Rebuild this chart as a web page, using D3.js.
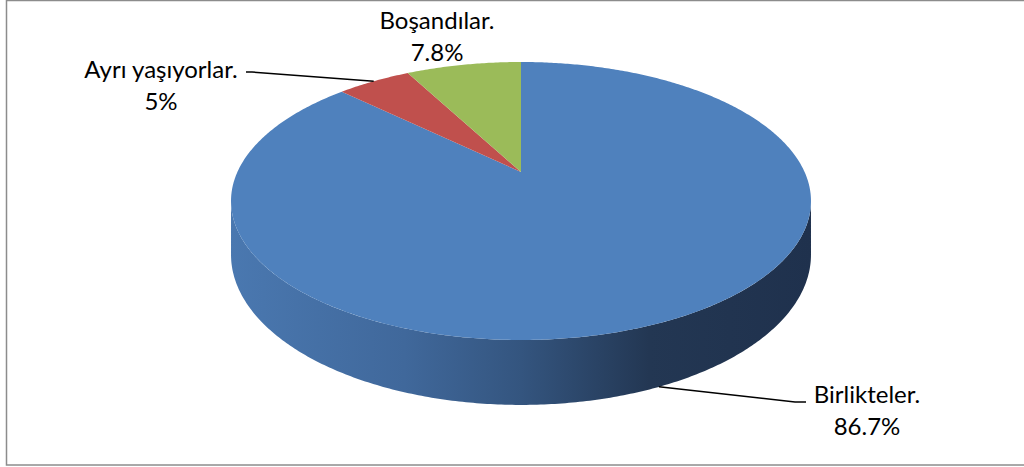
<!DOCTYPE html>
<html>
<head>
<meta charset="utf-8">
<script src="https://cdn.jsdelivr.net/npm/d3@7"></script>
<style>
  body { margin: 0; background: #fff; }
  svg { display: block; }
</style>
</head>
<body>
<script>
const categories = ["Birlikteler.", "Ayrı yaşıyorlar.", "Boşandılar."];
const percentages = [86.7, 5, 7.8];
const percentLabels = ["86.7%", "5%", "7.8%"];
const colors = ["#4F81BD", "#C0504D", "#9BBB59"];

const width = 1024;
const height = 467;

// perspective disc: centre of pie on screen, half-width, tilt
const cx = 521;
const cy = 172;
const B = 97.07;
const C = 283.6;
const k = -0.2086;
const depth = 51.4;

// angle (0 = top, clockwise) -> screen point; h = 0 top face, 1 bottom face
const proj = (a, h) => {
  const u = Math.sin(a);
  const v = -Math.cos(a);
  const w = 1 + k * v;
  return [cx + (C * u) / w, (cy + B * v + h * depth) / w];
};

const svg = d3
  .select("body")
  .append("svg")
  .attr("width", width)
  .attr("height", height);

svg
  .append("rect")
  .attr("x", 6.5)
  .attr("y", 0.5)
  .attr("width", 1030)
  .attr("height", 464.5)
  .attr("fill", "#fff")
  .attr("stroke", "#8c8c8c")
  .attr("stroke-width", 1.5);

const defs = svg.append("defs");
const grad = defs
  .append("linearGradient")
  .attr("id", "side")
  .attr("gradientUnits", "userSpaceOnUse")
  .attr("x1", cx - 291)
  .attr("x2", cx + 291)
  .attr("y1", 0)
  .attr("y2", 0);
[
  [0, "#4a78b0"],
  [0.3, "#40689b"],
  [0.5, "#34557f"],
  [0.72, "#233753"],
  [1, "#1f314d"]
].forEach(([o, c]) => grad.append("stop").attr("offset", o).attr("stop-color", c));

const arcs = d3.pie().sort(null).value((d) => d)(percentages);

const line = d3.line();
const sample = (a0, a1, h) => {
  const n = Math.max(2, Math.ceil(Math.abs(a1 - a0) / 0.01));
  return d3.range(n + 1).map((i) => proj(a0 + ((a1 - a0) * i) / n, h));
};

// front-facing part of the rim lies between the two horizontal extremes
const s = Math.acos(k);
const front0 = s;
const front1 = 2 * Math.PI - s;

svg
  .selectAll("path.side")
  .data(arcs.filter((d) => d.endAngle > front0 && d.startAngle < front1))
  .enter()
  .append("path")
  .attr("class", "side")
  .attr("d", (d) => {
    const a0 = Math.max(d.startAngle, front0);
    const a1 = Math.min(d.endAngle, front1);
    const pts = sample(a0, a1, 0).concat(sample(a1, a0, 1));
    return line(pts) + "Z";
  })
  .attr("fill", (d) => (d.index === 0 ? "url(#side)" : d3.color(colors[d.index]).darker(1)));

svg
  .selectAll("path.top")
  .data(arcs)
  .enter()
  .append("path")
  .attr("class", "top")
  .attr("d", (d) => line([[cx, cy]].concat(sample(d.startAngle, d.endAngle, 0))) + "Z")
  .attr("fill", (d, i) => colors[i]);

// label placement (style): text centre, baseline, leader elbow side
const labelPos = [
  { x: 867, y: 403, elbow: [795, 402], end: [806, 402], h: 1 },
  { x: 161, y: 78, elbow: [252, 72], end: [246, 72], h: 0 },
  { x: 437, y: 29, elbow: null, end: null, h: 0 }
];

arcs.forEach((d, i) => {
  const p = labelPos[i];
  if (p.elbow) {
    const mid = (d.startAngle + d.endAngle) / 2;
    const a = proj(mid, p.h);
    svg
      .append("path")
      .attr("d", line([a, p.elbow, p.end]))
      .attr("fill", "none")
      .attr("stroke", "#000")
      .attr("stroke-width", 1.5);
  }
  const t = svg
    .append("text")
    .attr("text-anchor", "middle")
    .attr("font-family", "Lato, 'Open Sans', sans-serif")
    .attr("font-size", "24px")
    .attr("fill", "#000");
  t.append("tspan").attr("x", p.x).attr("y", p.y).text(categories[i]);
  t.append("tspan").attr("x", p.x).attr("y", p.y + 32).text(percentLabels[i]);
});
</script>
</body>
</html>
